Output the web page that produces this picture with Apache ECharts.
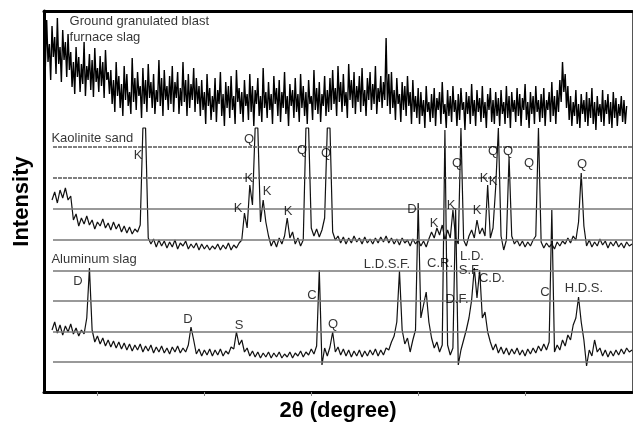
<!DOCTYPE html>
<html>
<head>
<meta charset="utf-8">
<script src="https://cdn.jsdelivr.net/npm/echarts@6/dist/echarts.min.js"></script>
<style>
  html, body { margin: 0; padding: 0; background: #fff; }
  #container { width: 633px; height: 431px; }
</style>
</head>
<body>
<div id="container"></div>
<script>
// scan settings (2theta, degrees)
const slagStep = 0.125;
const scanStep = 0.25;
const slagStart = 5.0;
const kaolStart = 5.75;
const alumStart = 5.75;

// ground granulated blast furnace slag (offset counts)
const slagCounts = [
  360, 325, 372, 330, 348, 312, 366, 335, 355, 318, 374, 328, 345, 310, 362, 332, 350, 315, 358, 322,
  340, 305, 330, 298, 345, 315, 335, 300, 328, 308, 350, 296, 326, 312, 338, 302, 332, 295, 344, 310,
  324, 300, 336, 306, 330, 294, 342, 312, 320, 298,
  322, 288, 312, 280, 330, 296, 316, 284, 308, 276, 326, 292, 318, 286, 300, 278, 334, 290, 314, 282,
  320, 296, 306, 274, 324, 288, 312, 280, 328, 294, 310, 284, 318, 278, 302, 290, 332, 286, 314, 276,
  322, 292, 306, 282, 316, 288, 326, 280, 310, 294, 320, 278, 304, 286, 330, 290, 312, 276, 318, 284,
  308, 292, 324, 280, 314, 288, 306,
  276, 312, 282, 300, 268, 318, 286, 304, 272, 296, 280, 314, 270, 302, 288, 320, 276, 298, 266, 310,
  284, 306, 274, 316, 282, 296, 268, 322, 290, 304, 278, 300, 270, 312, 286, 298, 272, 318, 280, 306,
  266, 302, 288, 314, 276, 296, 270, 324, 284, 300, 274, 310, 282, 298, 268, 316, 288, 304, 276, 312,
  270, 300, 284, 320, 278, 296, 266, 308, 286, 302, 274, 314, 280, 298, 270, 318, 284, 306, 276, 300,
  268, 312, 288, 296, 272, 322, 282, 304, 278, 310, 270, 298, 286, 316, 276, 302, 280,
  314, 282, 322, 288, 304, 276, 326, 290, 310, 280, 318, 286, 300, 274, 328, 292, 312, 284, 320, 278,
  306, 290, 316, 280, 324, 286, 302, 276, 314, 292, 320, 282, 308, 288, 326, 278, 304, 290, 316, 284,
  310, 292, 354, 286, 318,
  278, 320, 284, 302, 272, 314, 288, 298, 270, 310, 282, 306, 276, 316, 286, 300, 268, 312, 280, 296,
  274, 304,
  268, 300, 276, 292, 264, 306, 280, 290, 270, 298, 274, 304, 266, 294, 282, 300, 268, 310, 278, 288,
  264, 302, 276, 296, 270, 306, 280, 292, 266, 298, 272, 304, 282, 290, 262, 300, 278, 296, 268, 308,
  276, 292, 266, 302, 280, 294, 270, 306, 274, 290, 264, 298, 282, 304, 270, 292, 268, 300, 276, 294,
  266, 302, 278, 290, 268, 306, 274, 296, 264, 300, 280, 292, 270, 304, 276, 298, 266, 294, 282, 308,
  272, 290, 264, 300, 278, 296, 268, 306, 280, 292, 270, 298, 274, 304, 266, 292, 282, 300, 270, 310,
  276, 296, 268, 302, 280,
  312, 290, 330, 300, 318, 284, 306,
  272, 296, 266, 290, 276, 302, 268, 288, 264, 298, 278, 292, 270, 300, 266, 294, 274, 304, 268, 290,
  262, 296, 276, 288, 270, 302, 266, 292, 278, 298, 268, 290, 264, 300, 274, 294, 266, 288, 276, 296,
  270, 292, 268, 286
];

// kaolinite sand (offset counts)
const kaolCounts = [
  192, 200, 189, 202, 194, 204, 192, 196, 172, 178, 166, 174, 168, 176, 167, 172, 163, 170,
  166, 173, 164, 169, 162, 170, 163, 168, 160, 166, 159, 165, 158, 163, 160, 167, 264, 264,
  154, 148, 153, 145, 152, 146, 151, 144, 150, 145, 152, 143, 149, 146, 151, 143, 148, 144,
  149, 142, 148, 143, 147, 142, 146, 143, 148, 142, 147, 143, 149, 142, 147, 144, 149, 152,
  179, 164, 207, 187, 264, 264, 170, 192, 170, 156, 146, 152, 145, 154, 148, 156, 174, 154,
  160, 148, 154, 146, 152, 264, 264, 164, 156, 163, 155, 162, 174, 264, 264, 160, 152, 156,
  149, 155, 148, 154, 149, 156, 150, 154, 148, 155, 149, 153, 148, 154, 149, 155, 150, 156,
  149, 154, 148, 153, 147, 154, 149, 152, 146, 153, 148, 152, 146, 151, 145, 153, 160, 154,
  164, 157, 167, 152, 162, 154, 182, 154, 148, 264, 152, 146, 156, 162, 154, 172, 158, 164,
  156, 207, 154, 164, 205, 264, 156, 142, 152, 235, 156, 148, 152, 146, 151, 145, 150, 146,
  152, 156, 264, 150, 144, 149, 145, 148, 143, 150, 146, 151, 148, 154, 149, 156, 152, 170,
  219, 166, 146, 152, 145, 150, 146, 153, 147, 151, 144, 150, 146, 151, 145, 149, 144, 150,
  146, 148
];

// aluminum slag (offset counts)
const alumCounts = [
  62, 70, 59, 67, 57, 66, 60, 68, 58, 64, 56, 62, 58, 74, 124, 62, 50, 56, 48, 54,
  46, 52, 45, 51, 44, 50, 43, 49, 42, 48, 41, 47, 42, 48, 40, 46, 41, 47, 39, 45,
  40, 46, 39, 44, 38, 45, 40, 46, 39, 44, 40, 47, 65, 52, 38, 43, 36, 42, 37, 43,
  36, 42, 37, 43, 36, 41, 38, 45, 43, 60, 47, 52, 40, 44, 36, 41, 35, 40, 34, 39,
  35, 40, 34, 39, 35, 40, 34, 38, 35, 40, 34, 39, 36, 41, 35, 40, 37, 43, 38, 46,
  122, 27, 44, 36, 45, 60, 40, 45, 37, 43, 36, 42, 35, 41, 36, 42, 35, 41, 36, 42,
  37, 43, 36, 42, 37, 44, 42, 50, 56, 70, 121, 62, 48, 54, 40, 52, 62, 189, 74, 87,
  100, 70, 54, 44, 50, 40, 47, 262, 47, 37, 44, 184, 27, 42, 52, 62, 74, 92, 124, 94,
  122, 74, 80, 60, 50, 42, 48, 39, 45, 38, 44, 37, 43, 38, 44, 37, 42, 36, 43, 38,
  44, 39, 46, 41, 48, 42, 50, 182, 40, 47, 42, 52, 46, 57, 52, 67, 74, 95, 70, 52,
  26, 42, 36, 52, 40, 44, 36, 42, 35, 41, 36, 42, 37, 43, 38, 44, 40, 42
];

// horizontal reference lines (offset counts)
const refLevels = [245, 214, 183, 152, 121, 91, 60, 30];
const refStart = 5.84;

// peak labels: [2theta, counts, text]
const peakLabels = [
  [13.79, 237, 'K'], [24.17, 253, 'Q'], [24.17, 214, 'K'], [23.15, 184, 'K'],
  [25.86, 201, 'K'], [27.82, 181, 'K'], [29.13, 242, 'Q'], [31.38, 239, 'Q'],
  [39.42, 183, 'D'], [41.48, 169, 'K'], [43.07, 187, 'K'], [43.63, 229, 'Q'],
  [45.50, 182, 'K'], [46.16, 214, 'K'], [47.00, 211, 'K'], [47.00, 241, 'Q'],
  [48.40, 241, 'Q'], [50.37, 229, 'Q'], [55.32, 228, 'Q'],
  [8.18, 111, 'D'], [18.47, 73, 'D'], [23.24, 67, 'S'], [30.07, 97, 'C'],
  [32.03, 68, 'Q'], [37.08, 128, 'L.D.S.F.'], [42.04, 129, 'C.R.'],
  [45.03, 136, 'L.D.'], [44.85, 122, 'S.F.'], [46.90, 114, 'C.D.'],
  [43.63, 93, 'D.F.'], [51.86, 100, 'C'], [55.51, 104, 'H.D.S.']
];

// sample names: [2theta, counts, text]
const sampleNames = [
  [7.34, 371, 'Ground granulated blast'],
  [7.34, 355, 'furnace slag'],
  [5.65, 254, 'Kaolinite sand'],
  [5.65, 133, 'Aluminum slag']
];

const degTicks = [10, 20, 30, 40, 50];

function toPairs(start, step, counts) {
  return counts.map((c, i) => [+(start + i * step).toFixed(3), c]);
}

var dom = document.getElementById('container');
var myChart = echarts.init(dom, null, { renderer: 'canvas' });
var font = 'Liberation Sans, Arial, sans-serif';

var traceStyle = { color: '#111', width: 1.2 };

var option = {
  animation: false,
  grid: { left: 44, right: 1, top: 11, bottom: 39 },
  xAxis: [{
    type: 'value',
    min: 5,
    max: 60,
    name: '2\u03b8 (degree)',
    nameLocation: 'middle',
    nameGap: 8,
    nameTextStyle: { fontFamily: font, fontWeight: 'bold', fontSize: 22, color: '#000', verticalAlign: 'top' },
    axisLine: { show: true, onZero: false, lineStyle: { color: '#000', width: 3 } },
    axisTick: { show: true, customValues: degTicks, length: 4, lineStyle: { color: '#888', width: 1 } },
    axisLabel: { show: false },
    splitLine: { show: false }
  }, {
    type: 'value',
    position: 'top',
    min: 5,
    max: 60,
    axisLine: { show: true, onZero: false, lineStyle: { color: '#000', width: 3 } },
    axisTick: { show: false },
    axisLabel: { show: false },
    splitLine: { show: false }
  }],
  yAxis: [{
    type: 'value',
    min: 0,
    max: 381,
    name: 'Intensity',
    nameLocation: 'middle',
    nameGap: 11,
    nameTextStyle: { fontFamily: font, fontWeight: 'bold', fontSize: 22, color: '#000' },
    axisLine: { show: true, onZero: false, lineStyle: { color: '#000', width: 3 } },
    axisTick: { show: false },
    axisLabel: { show: false },
    splitLine: { show: false }
  }, {
    type: 'value',
    position: 'right',
    min: 0,
    max: 381,
    axisLine: { show: true, onZero: false, lineStyle: { color: '#555', width: 1 } },
    axisTick: { show: false },
    axisLabel: { show: false },
    splitLine: { show: false }
  }],
  series: [
    {
      name: 'Ground granulated blast furnace slag',
      type: 'line',
      data: toPairs(slagStart, slagStep, slagCounts),
      showSymbol: false,
      lineStyle: { color: '#000', width: 1.4 }
    },
    {
      name: 'Kaolinite sand',
      type: 'line',
      data: toPairs(kaolStart, scanStep, kaolCounts),
      showSymbol: false,
      lineStyle: traceStyle,
      markLine: {
        silent: true,
        symbol: 'none',
        label: { show: false },
        data: refLevels.map((v, k) => [
          { coord: [refStart, v], lineStyle: k < 2
              ? { color: '#555', width: 1.5, type: [4, 1] }
              : { color: '#777', width: 1.5, type: 'solid' } },
          { coord: [60, v] }
        ])
      }
    },
    {
      name: 'Aluminum slag',
      type: 'line',
      data: toPairs(alumStart, scanStep, alumCounts),
      showSymbol: false,
      lineStyle: traceStyle
    },
    {
      name: 'peaks',
      type: 'scatter',
      data: peakLabels,
      symbolSize: 1,
      itemStyle: { color: 'transparent' },
      z: 10,
      label: {
        show: true,
        position: 'inside',
        formatter: p => p.value[2],
        fontFamily: font,
        fontSize: 13,
        color: '#000'
      }
    },
    {
      name: 'samples',
      type: 'scatter',
      data: sampleNames,
      symbolSize: 1,
      itemStyle: { color: 'transparent' },
      z: 10,
      label: {
        show: true,
        position: 'right',
        distance: 0,
        formatter: p => p.value[2],
        fontFamily: font,
        fontSize: 13,
        color: '#000'
      }
    }
  ]
};

myChart.setOption(option);
window.addEventListener('resize', myChart.resize);
</script>
</body>
</html>
